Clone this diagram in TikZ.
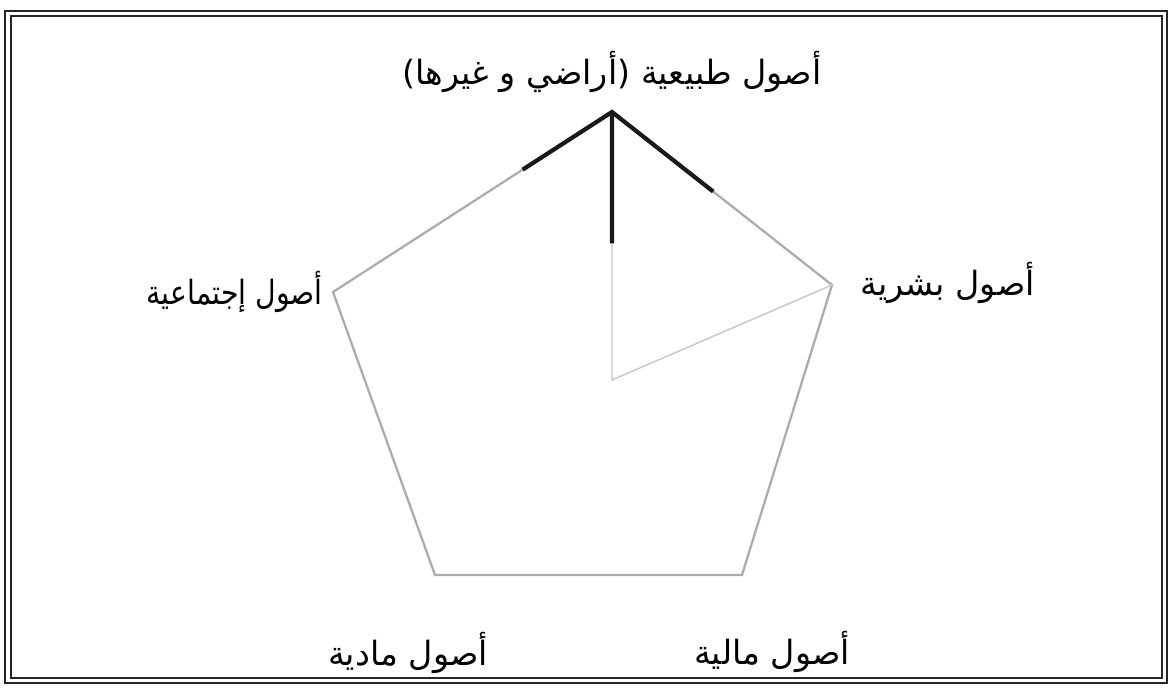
\documentclass[tikz,border=0pt]{standalone}
\usepackage{fontspec}
\usetikzlibrary{calc}
\newfontfamily\arabicfont[Script=Arabic]{DejaVu Sans}
\TeXXeTstate=1
\tikzset{
  frameline/.style={draw=black!85, line width=1pt},
  edgeline/.style={draw=gray!65, line width=1.3pt},
  boldline/.style={draw=black!90, line width=2.4pt},
  spokeline/.style={draw=gray!45, line width=0.8pt},
  assetlabel/.style={font=\arabicfont\fontsize{19}{23}\selectfont, inner sep=0pt},
}
\begin{document}
\begin{tikzpicture}[x=0.02cm,y=-0.02cm]
            \useasboundingbox (0,0) rectangle (1171,689);
            \draw[frameline] (5,11) rectangle (1167,683);
            \draw[frameline] (11,16) rectangle (1162,678);

            \coordinate (TopCorner) at (612,112);
            \coordinate (RightCorner) at (832,285);
            \coordinate (LowRightCorner) at (742,575);
            \coordinate (LowLeftCorner) at (435,575);
            \coordinate (LeftCorner) at (333,292);
            \coordinate (Center) at (612,380);

            \draw[edgeline] (TopCorner)--(RightCorner)--(LowRightCorner)--(LowLeftCorner)--(LeftCorner)--cycle;
            \draw[spokeline] (TopCorner)--(Center)--(RightCorner);
            \draw[boldline] ($(TopCorner)!0.32!(LeftCorner)$)--(TopCorner)--($(TopCorner)!0.46!(RightCorner)$);
            \draw[boldline] (TopCorner)--($(TopCorner)!0.49!(Center)$);

            \node[assetlabel] (NaturalAssets) at (612,72) {\beginR أصول طبيعية (أراضي و غيرها)\endR};
            \node[assetlabel, anchor=east, xscale=0.85] (SocialAssets) at (323,292) {\beginR أصول إجتماعية\endR};
            \node[assetlabel, anchor=west] (HumanAssets) at (860,283) {\beginR أصول بشرية\endR};
            \node[assetlabel] (PhysicalAssets) at (408,653) {\beginR أصول مادية\endR};
            \node[assetlabel] (FinancialAssets) at (772,652) {\beginR أصول مالية\endR};
        \end{tikzpicture}
\end{document}
